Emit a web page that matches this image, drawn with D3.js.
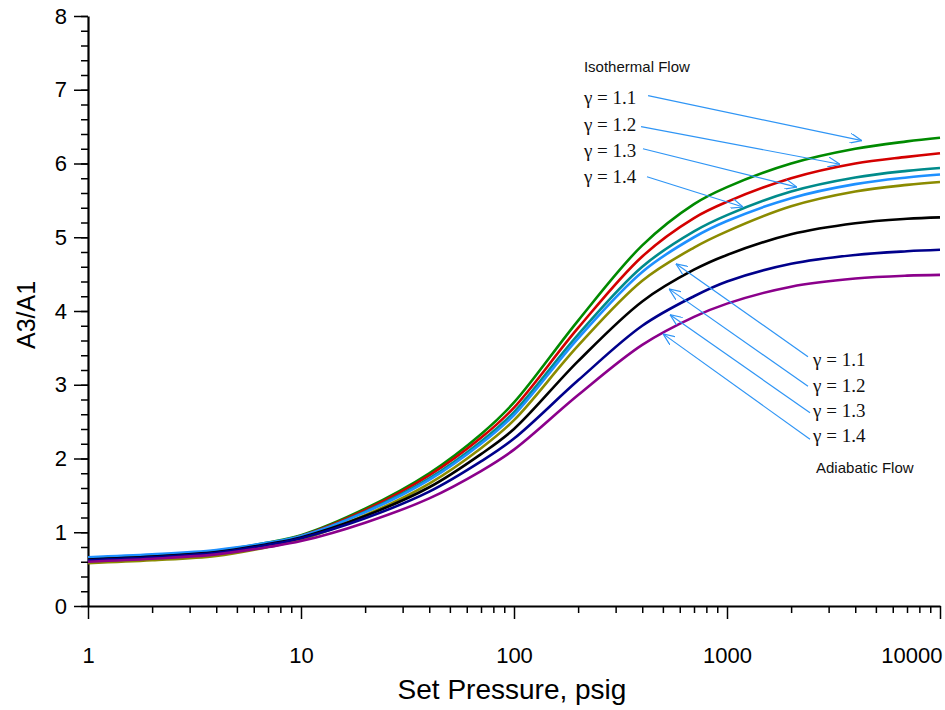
<!DOCTYPE html>
<html>
<head>
<meta charset="utf-8">
<script src="https://cdn.jsdelivr.net/npm/d3@7"></script>
<style>
  body { margin: 0; background: #fff; }
  svg { display: block; font-family: "Liberation Sans", Arial, sans-serif; }
</style>
</head>
<body>
<div id="chart"></div>
<script>
// set pressure (psig) where the curves are sampled
const pressures = [1, 2, 4, 7, 10, 20, 40, 70, 100, 200, 400, 700, 1000, 2000, 4000, 7000, 10000];

// A3/A1, isothermal flow
const isoG11 = [0.64, 0.68, 0.75, 0.86, 0.96, 1.32, 1.80, 2.33, 2.76, 3.87, 4.89, 5.45, 5.68, 6.00, 6.20, 6.30, 6.35];
const isoG12 = [0.63, 0.67, 0.74, 0.85, 0.95, 1.30, 1.77, 2.28, 2.69, 3.77, 4.74, 5.26, 5.48, 5.80, 6.00, 6.09, 6.14];
const isoG13 = [0.62, 0.66, 0.73, 0.84, 0.94, 1.28, 1.73, 2.23, 2.63, 3.68, 4.60, 5.08, 5.30, 5.62, 5.81, 5.90, 5.94];
const isoG14 = [0.66, 0.70, 0.76, 0.86, 0.95, 1.27, 1.71, 2.20, 2.59, 3.63, 4.53, 5.00, 5.22, 5.53, 5.72, 5.81, 5.85];
// A3/A1, adiabatic flow
const adiG11 = [0.58, 0.62, 0.68, 0.80, 0.90, 1.23, 1.66, 2.14, 2.52, 3.53, 4.41, 4.86, 5.08, 5.42, 5.62, 5.71, 5.75];
const adiG12 = [0.63, 0.67, 0.73, 0.84, 0.93, 1.22, 1.61, 2.06, 2.40, 3.32, 4.13, 4.56, 4.76, 5.04, 5.19, 5.25, 5.27];
const adiG13 = [0.62, 0.66, 0.72, 0.83, 0.92, 1.19, 1.55, 1.96, 2.27, 3.06, 3.80, 4.20, 4.40, 4.64, 4.76, 4.81, 4.83];
const adiG14 = [0.60, 0.64, 0.70, 0.80, 0.88, 1.13, 1.46, 1.83, 2.12, 2.86, 3.54, 3.92, 4.10, 4.33, 4.44, 4.48, 4.49];

const seriesValues = [isoG11, isoG12, isoG13, isoG14, adiG11, adiG12, adiG13, adiG14];
const seriesColors = ['#008a00', '#d40000', '#008b8b', '#1e90ff', '#8b8b00', '#000000', '#00008b', '#8b008b'];

const xTicks = [1, 10, 100, 1000, 10000];
const yTicks = [0, 1, 2, 3, 4, 5, 6, 7, 8];

// annotations (in data units: [psig, A3/A1])
const gammaLabels = ['γ = 1.1', 'γ = 1.2', 'γ = 1.3', 'γ = 1.4'];
const isoTitle = { text: 'Isothermal Flow', at: [213, 7.24] };
const isoLabelAt = [[213, 6.81], [213, 6.44], [213, 6.09], [213, 5.74]];
const isoTails = [[426, 6.92], [395, 6.50], [403, 6.20], [421, 5.82]];
const isoTips = [[4300, 6.31], [3390, 5.99], [2130, 5.68], [1190, 5.41]];
const adiTitle = { text: 'Adiabatic Flow', at: [2618, 1.80] };
const adiLabelAt = [[2535, 3.25], [2535, 2.90], [2535, 2.56], [2535, 2.22]];
const adiTails = [[2400, 3.38], [2400, 2.98], [2453, 2.62], [2453, 2.26]];
const adiTips = [[576, 4.64], [534, 4.30], [540, 3.95], [501, 3.69]];

// ------------------------------------------------------------------
const W = 945, H = 710;
const margin = { top: 16, right: 5, bottom: 104, left: 88 };
const width = W - margin.left - margin.right;
const height = H - margin.top - margin.bottom;

const svg = d3.select('#chart').append('svg')
    .attr('width', W).attr('height', H);
const g = svg.append('g')
    .attr('transform', 'translate(' + margin.left + ',' + margin.top + ')');

const x = d3.scaleLog().domain([1, 10000]).range([0, width]);
const y = d3.scaleLinear().domain([0, 8]).range([height, 0]);

// minor ticks
const xMinor = [];
for (let d = 1; d < 10000; d *= 10) {
    for (let k = 2; k <= 9; k++) xMinor.push(d * k);
}
g.append('g')
    .attr('transform', 'translate(0,' + height + ')')
    .call(d3.axisBottom(x).tickValues(xMinor).tickSize(7).tickFormat(''))
    .call(a => a.select('.domain').remove())
    .selectAll('line').attr('stroke-width', 1.5);
g.append('g')
    .call(d3.axisLeft(y).tickValues(d3.range(0, 8.01, 0.2)).tickSize(7).tickFormat(''))
    .call(a => a.select('.domain').remove())
    .selectAll('line').attr('stroke-width', 1.5);

// major axes
const xAxis = g.append('g')
    .attr('transform', 'translate(0,' + height + ')')
    .call(d3.axisBottom(x).tickValues(xTicks).tickSize(13).tickSizeOuter(0)
        .tickPadding(28).tickFormat(d3.format('d')));
const yAxis = g.append('g')
    .call(d3.axisLeft(y).tickValues(yTicks).tickSize(14).tickSizeOuter(0).tickPadding(7));
[xAxis, yAxis].forEach(a => {
    a.select('.domain').attr('stroke-width', 2.2);
    a.selectAll('line').attr('stroke-width', 1.5);
    a.selectAll('text')
        .attr('font-family', '"Liberation Sans", Arial, sans-serif')
        .attr('font-size', 22).attr('fill', '#000');
});
// the last label sits flush with the right end of the axis
xAxis.selectAll('text')
    .filter(d => d === 10000)
    .attr('text-anchor', 'end')
    .attr('dx', 2);

// axis titles
svg.append('text')
    .attr('x', margin.left + width / 2 - 2).attr('y', 699)
    .attr('text-anchor', 'middle').attr('font-size', 28)
    .text('Set Pressure, psig');
svg.append('text')
    .attr('transform', 'translate(35,315) rotate(-90)')
    .attr('text-anchor', 'middle').attr('font-size', 25)
    .text('A3/A1');

// curves
const line = d3.line()
    .x((d, i) => x(pressures[i]))
    .y(d => y(d))
    .curve(d3.curveCatmullRom.alpha(0.5));
g.append('g').selectAll('path')
    .data(seriesValues)
    .enter().append('path')
    .attr('fill', 'none')
    .attr('stroke', (d, i) => seriesColors[i])
    .attr('stroke-width', 2.6)
    .attr('d', line);

// annotations
const arrowColor = '#2f95f5';
svg.append('defs').append('marker')
    .attr('id', 'head')
    .attr('viewBox', '0 0 12 10')
    .attr('refX', 12).attr('refY', 5)
    .attr('markerWidth', 12).attr('markerHeight', 10)
    .attr('markerUnits', 'userSpaceOnUse')
    .attr('orient', 'auto')
    .append('path')
    .attr('d', 'M0,0 L12,5 L0,10')
    .attr('fill', 'none')
    .attr('stroke', arrowColor)
    .attr('stroke-width', 1.2);

const ann = g.append('g');
const arrows = isoTails.map((t, i) => [t, isoTips[i]])
    .concat(adiTails.map((t, i) => [t, adiTips[i]]));
ann.selectAll('line.arrow')
    .data(arrows)
    .enter().append('line')
    .attr('class', 'arrow')
    .attr('x1', d => x(d[0][0])).attr('y1', d => y(d[0][1]))
    .attr('x2', d => x(d[1][0])).attr('y2', d => y(d[1][1]))
    .attr('stroke', arrowColor)
    .attr('stroke-width', 1.2)
    .attr('marker-end', 'url(#head)');

const labelPos = isoLabelAt.concat(adiLabelAt);
ann.selectAll('text.gamma')
    .data(labelPos)
    .enter().append('text')
    .attr('class', 'gamma')
    .attr('x', d => x(d[0])).attr('y', d => y(d[1]))
    .attr('font-family', '"Liberation Serif", "Times New Roman", serif')
    .attr('font-size', 19)
    .attr('fill', '#111')
    .text((d, i) => gammaLabels[i % 4]);

[isoTitle, adiTitle].forEach(t => {
    ann.append('text')
        .attr('x', x(t.at[0])).attr('y', y(t.at[1]))
        .attr('font-size', 15)
        .attr('fill', '#111')
        .text(t.text);
});
</script>
</body>
</html>
